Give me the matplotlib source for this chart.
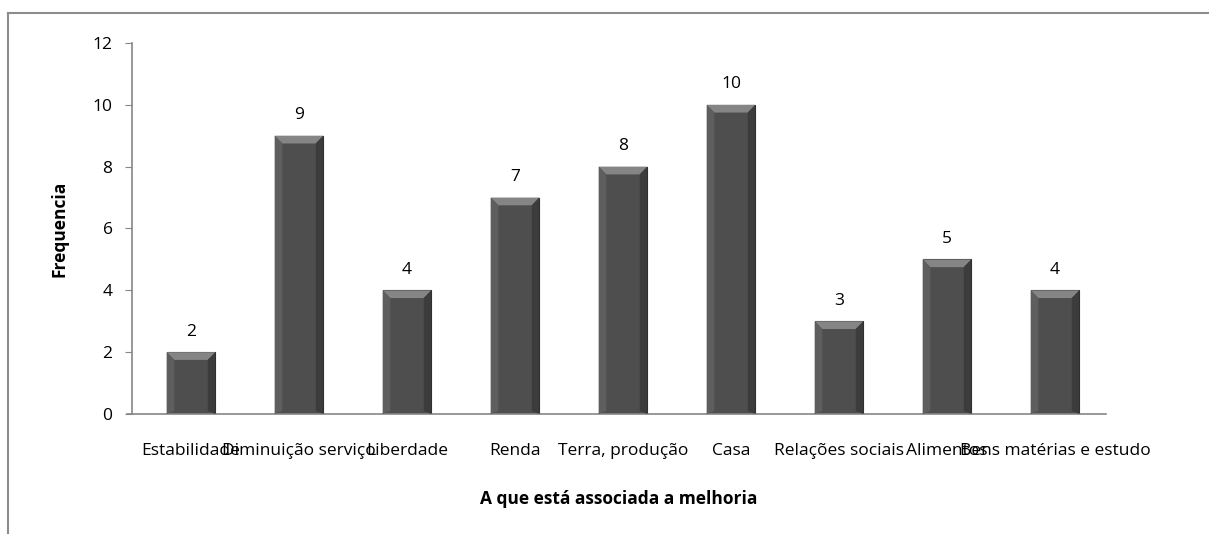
import numpy as np
import matplotlib.pyplot as plt
from matplotlib.lines import Line2D
from matplotlib.patches import Polygon

# data
categorias = ["Estabilidade", "Diminuição serviço", "Liberdade", "Renda",
              "Terra, produção", "Casa", "Relações sociais", "Alimentos",
              "Bens matérias e estudo"]
frequencia = [2, 9, 4, 7, 8, 10, 3, 5, 4]

plt.rcParams["font.family"] = ["Open Sans", "DejaVu Sans"]
fs = 12.5

fig = plt.figure(figsize=(12.09, 5.34), dpi=100)
ax = fig.add_axes([0.1092, 0.2247, 0.8056, 0.6948])

# outer frame (cut off at right/bottom like the original)
fig.add_artist(Line2D([8 / 1209, 1.0], [1 - 13 / 534, 1 - 13 / 534],
                      transform=fig.transFigure, color="#8c8c8c", lw=1.5))
fig.add_artist(Line2D([8 / 1209, 8 / 1209], [0, 1 - 13 / 534],
                      transform=fig.transFigure, color="#8c8c8c", lw=1.5))

x = np.arange(len(categorias))
w = 0.45
bars = ax.bar(x, frequencia, width=w, color="#4e4e4e",
              edgecolor="#2a2a2a", linewidth=0.8, zorder=2)

# bevel look on each bar
dx, dy = 0.07, 0.25
for xi, v in zip(x, frequencia):
    l, r = xi - w / 2, xi + w / 2
    ax.add_patch(Polygon([(l, v), (r, v), (r - dx, v - dy), (l + dx, v - dy)],
                         closed=True, color="#858585", lw=0, zorder=3))
    ax.add_patch(Polygon([(l, 0), (l, v), (l + dx, v - dy), (l + dx, dy * 0.4)],
                         closed=True, color="#5e5e5e", lw=0, zorder=3))
    ax.add_patch(Polygon([(r, 0), (r, v), (r - dx, v - dy), (r - dx, dy * 0.4)],
                         closed=True, color="#3c3c3c", lw=0, zorder=3))
    ax.annotate(str(v), (xi, v), xytext=(0, 9), textcoords="offset points",
                ha="center", va="bottom", fontsize=fs)

ax.set_xlim(-0.546, 8.472)
ax.set_ylim(0, 12)
ax.set_yticks(range(0, 13, 2))
ax.set_xticks(x)
ax.set_xticklabels(categorias, fontsize=fs)
ax.tick_params(axis="x", length=0, pad=21)
ax.tick_params(axis="y", length=5, color="#868686", pad=9, labelsize=fs)

for s in ["top", "right"]:
    ax.spines[s].set_visible(False)
for s in ["left", "bottom"]:
    ax.spines[s].set_color("#868686")
    ax.spines[s].set_linewidth(1.2)
ax.spines["bottom"].set_bounds(-0.592, 8.472)

ax.set_xlabel("A que está associada a melhoria", fontsize=fs,
              fontweight="bold", labelpad=22)
ax.set_ylabel("Frequencia", fontsize=fs, fontweight="bold", labelpad=17)

fig.savefig("out.png", dpi=100)
